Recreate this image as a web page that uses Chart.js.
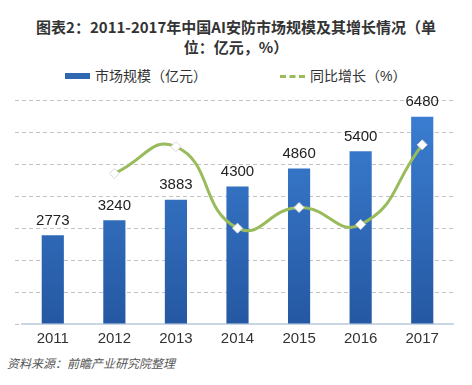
<!DOCTYPE html>
<html>
<head>
<meta charset="utf-8">
<script src="https://cdn.jsdelivr.net/npm/chart.js@4"></script>
<style>
  body { margin: 0; background: #fff; }
  #wrap { position: relative; width: 472px; height: 385px; overflow: hidden;
          font-family: "Liberation Sans", "Noto Sans CJK SC", sans-serif; color: #333; }
  #title { position: absolute; top: 17px; left: 0; width: 472px; text-align: center;
           font-family: "Noto Sans CJK SC", sans-serif; font-weight: bold; font-size: 15px; line-height: 20px; color: #333; }
  #legend { position: absolute; top: 66px; left: 0; width: 472px; height: 20px; }
  .lg { position: absolute; top: 0; height: 20px; line-height: 20px; font-size: 14px; white-space: nowrap; }
  .lg i { position: absolute; top: 7px; left: 0; width: 25px; height: 6px; }
  .lg span { position: absolute; left: 30px; top: 0; }
  #chart { position: absolute; top: 86px; left: 0; }
  #footer { position: absolute; top: 355px; left: 7px; font-size: 12px; font-style: italic; color: #555;
            font-family: "Noto Sans CJK SC", sans-serif; line-height: 16px; }
</style>
</head>
<body>
<div id="wrap">
  <div id="title">图表2：2011-2017年中国AI安防市场规模及其增长情况（单<br>位：亿元，%）</div>
  <div id="legend"></div>
  <canvas id="chart" width="472" height="268"></canvas>
  <div id="footer">资料来源：前瞻产业研究院整理</div>
</div>
<script>
// chart data
const years = ['2011', '2012', '2013', '2014', '2015', '2016', '2017']
const marketSize = [2773, 3240, 3883, 4300, 4860, 5400, 6480]   // 亿元
const growth = [null, 16.8, 19.8, 10.7, 13.0, 11.1, 20.0]       // %
const sizeLabel = '市场规模（亿元）'
const growthLabel = '同比增长（%）'

const barTop = '#3c80d4'
const barBottom = '#2558a2'
const lineColor = '#99bb5c'

// vertical gradient for the bars
function barFill(context) {
  const area = context.chart.chartArea
  if (!area) return barBottom
  const g = context.chart.ctx.createLinearGradient(0, area.top, 0, area.bottom)
  g.addColorStop(0, barTop)
  g.addColorStop(1, barBottom)
  return g
}

// numbers above the bars
const valueLabels = {
  id: 'valueLabels',
  afterDatasetsDraw(chart) {
    const ctx = chart.ctx
    const meta = chart.getDatasetMeta(0)
    ctx.save()
    ctx.font = '15px "Liberation Sans", Arial, sans-serif'
    ctx.fillStyle = '#222'
    ctx.textAlign = 'center'
    ctx.textBaseline = 'bottom'
    meta.data.forEach((bar, i) => {
      ctx.fillText(chart.data.datasets[0].data[i], bar.x, bar.y - 7)
    })
    ctx.restore()
  }
}

const ctx = document.getElementById('chart').getContext('2d')
const myChart = new Chart(ctx, {
  type: 'bar',
  data: {
    labels: years,
    datasets: [{
      label: sizeLabel,
      data: marketSize,
      backgroundColor: barFill,
      borderWidth: 0,
      categoryPercentage: 1,
      barPercentage: 0.36,
      yAxisID: 'y',
      order: 1
    },
    {
      type: 'line',
      label: growthLabel,
      data: growth,
      borderColor: lineColor,
      borderWidth: 3,
      tension: 0.5,
      pointStyle: 'rectRot',
      pointRadius: 5,
      pointBackgroundColor: '#fff',
      pointBorderColor: '#d8d8d8',
      pointBorderWidth: 1,
      yAxisID: 'y1',
      order: 0
    }]
  },
  options: {
    responsive: false,
    animation: false,
    layout: { padding: { top: 14, left: 15, right: 19, bottom: 0 } },
    plugins: {
      legend: { display: false },
      tooltip: { enabled: false }
    },
    scales: {
      x: {
        grid: { display: false, drawTicks: false },
        border: { display: true, color: '#c9d6e4', width: 2 },
        ticks: {
          color: '#333',
          padding: 6,
          maxRotation: 0,
          font: { family: '"Liberation Sans", Arial, sans-serif', size: 15 }
        }
      },
      y: {
        min: 0,
        max: 7000,
        ticks: { display: false, stepSize: 1000 },
        border: { display: false, dash: [4, 3] },
        grid: { color: '#c4c4c4', lineWidth: 1, tickLength: 7, tickBorderDash: [4, 3] }
      },
      y1: {
        position: 'right',
        display: false,
        min: 0,
        max: 25
      }
    }
  },
  plugins: [valueLabels]
})

// legend built from the datasets
const legend = document.getElementById('legend')
const legendX = [65, 280]
myChart.data.datasets.forEach((ds, i) => {
  const item = document.createElement('div')
  item.className = 'lg'
  item.style.left = legendX[i] + 'px'
  const mark = document.createElement('i')
  if (ds.type === 'line') {
    mark.style.height = '0px'
    mark.style.top = '9px'
    mark.style.borderTop = '3px dashed ' + lineColor
  } else {
    mark.style.background = '#2f68b0'
  }
  const text = document.createElement('span')
  text.textContent = ds.label
  item.appendChild(mark)
  item.appendChild(text)
  legend.appendChild(item)
})
</script>
</body>
</html>
